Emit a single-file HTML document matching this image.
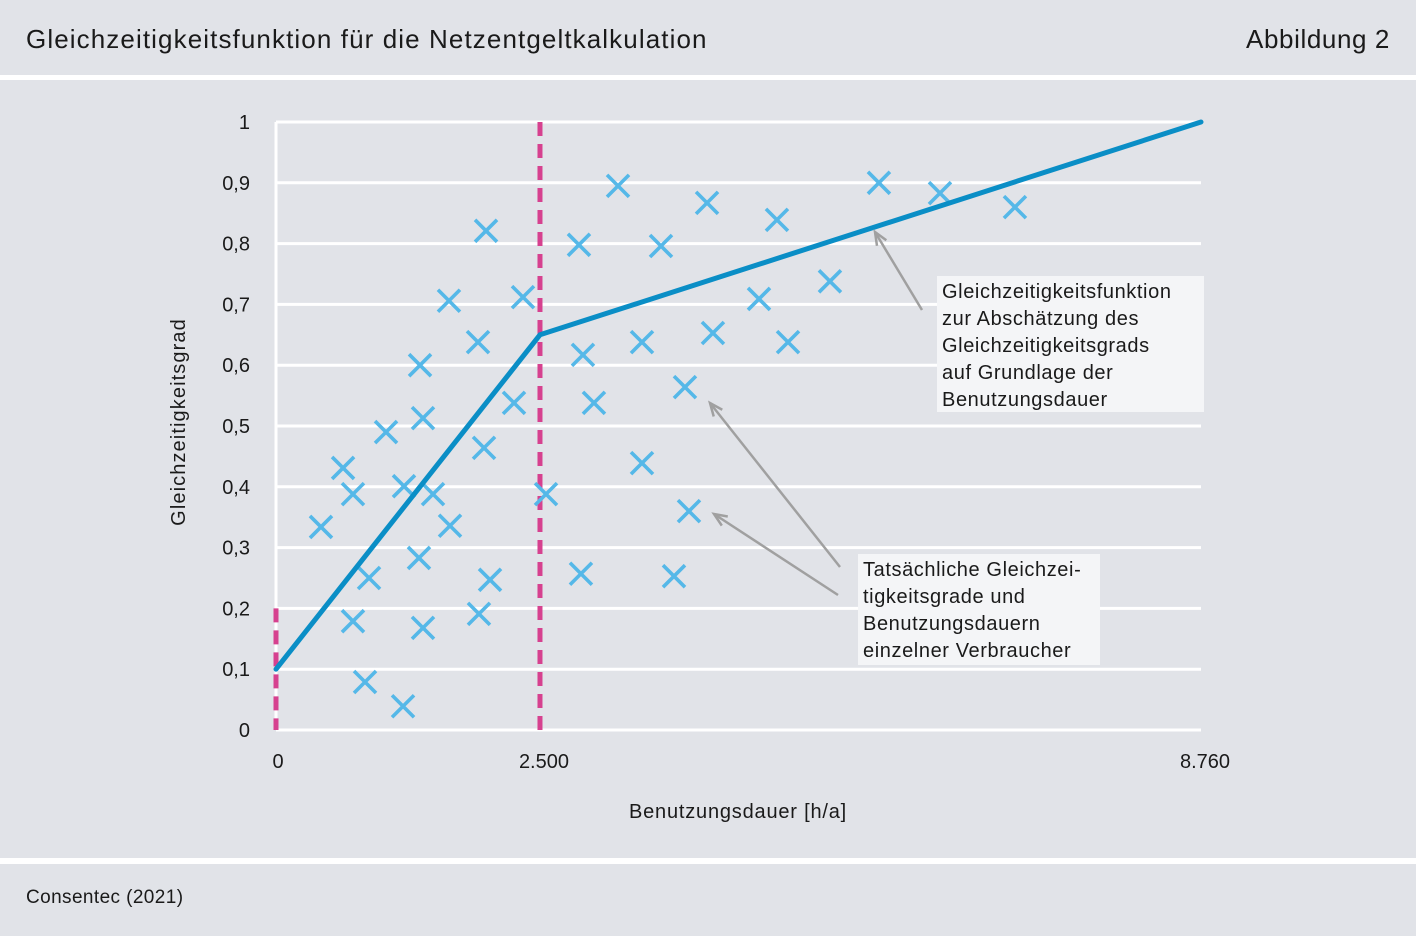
<!DOCTYPE html>
<html><head><meta charset="utf-8"><style>
body{margin:0;width:1416px;height:936px;background:#e1e3e8;font-family:"Liberation Sans",sans-serif;overflow:hidden;position:relative}
.t{position:absolute;color:#1a1a1a}
</style></head><body>
<div class="t" style="left:26px;top:24px;font-size:26px;letter-spacing:1.1px">Gleichzeitigkeitsfunktion für die Netzentgeltkalkulation</div>
<div class="t" style="right:26px;top:24px;font-size:26px;letter-spacing:0.6px">Abbildung 2</div>
<div style="position:absolute;left:0;top:75px;width:1416px;height:5px;background:#fff"></div>
<div style="position:absolute;left:0;top:858px;width:1416px;height:6px;background:#fff"></div>
<div class="t" style="left:26px;top:887px;font-size:19px;letter-spacing:0.4px">Consentec (2021)</div>
<svg id="c" width="1416" height="936" style="position:absolute;left:0;top:0" font-family="Liberation Sans, sans-serif"></svg>
<script>
const yTicks=[0,0.1,0.2,0.3,0.4,0.5,0.6,0.7,0.8,0.9,1];
const yTickLabels=["0","0,1","0,2","0,3","0,4","0,5","0,6","0,7","0,8","0,9","1"];
const xTicks=[0,2500,8760];
const xTickLabels=["0","2.500","8.760"];
const funcX=[0,2500,8760];
const funcY=[0.1,0.65,1.0];
const ptsX=[426,635,729,1042,1212,1364,1392,1487,1638,1648,1354,881,729,843,1203,1392,1913,1970,1989,2027,1922,2254,2339,2557,2869,2907,3011,2888,3239,3466,3466,3646,3873,3911,3769,4082,4138,4574,4744,4849,5246,5710,6288,6998];
const ptsY=[0.334,0.431,0.388,0.490,0.401,0.600,0.513,0.388,0.706,0.336,0.283,0.25,0.179,0.079,0.039,0.168,0.638,0.464,0.821,0.247,0.191,0.538,0.712,0.388,0.798,0.617,0.538,0.257,0.895,0.638,0.439,0.796,0.564,0.360,0.253,0.867,0.653,0.709,0.839,0.638,0.738,0.900,0.883,0.860];
const X=v=>276+v*925/8760, Y=v=>730-v*608;
const svg=document.getElementById('c'),NS="http://www.w3.org/2000/svg";
function mk(t,a,p){const e=document.createElementNS(NS,t);for(const k in a)e.setAttribute(k,a[k]);(p||svg).appendChild(e);return e;}
yTicks.forEach((v,i)=>{
 const g=mk('line',{x1:276,x2:1201,y1:Y(v),y2:Y(v),stroke:'#fff','stroke-width':3});
 
 
 const t=mk('text',{x:250,y:Y(v)+7,'text-anchor':'end','font-size':20,fill:'#1a1a1a'});t.textContent=yTickLabels[i];
 
 
});
const ax=mk('line',{x1:276,x2:276,y1:Y(1),y2:Y(0),stroke:'#fff','stroke-width':3});


xTicks.forEach((v,i)=>{
 const t=mk('text',{x:X(v)+(i==0?2:4),y:768,'text-anchor':'middle','font-size':20,fill:'#1a1a1a'});t.textContent=xTickLabels[i];
 
 
});
let t=mk('text',{x:738,y:818,'text-anchor':'middle','font-size':20,fill:'#1a1a1a','letter-spacing':0.8});t.textContent='Benutzungsdauer [h/a]';


t=mk('text',{x:185,y:422,'text-anchor':'middle','font-size':20,fill:'#1a1a1a','letter-spacing':1.1,transform:'rotate(-90 185 422)'});t.textContent='Gleichzeitigkeitsgrad';


let d=mk('line',{x1:X(0),x2:X(0),y1:Y(0.2),y2:Y(0),stroke:'#d6418f','stroke-width':5,'stroke-dasharray':'14 8'});


d=mk('line',{x1:X(2500),x2:X(2500),y1:Y(1),y2:Y(0),stroke:'#d6418f','stroke-width':5,'stroke-dasharray':'14 8'});


ptsX.forEach((x,i)=>{
 const cx=X(x),cy=Y(ptsY[i]),s=11;
 const p=mk('path',{d:`M${cx-s} ${cy-s}L${cx+s} ${cy+s}M${cx+s} ${cy-s}L${cx-s} ${cy+s}`,stroke:'#55b8e8','stroke-width':3.6,fill:'none'});
 
 
});
const fl=mk('polyline',{points:funcX.map((x,i)=>X(x)+','+Y(funcY[i])).join(' '),fill:'none',stroke:'#0a8ec6','stroke-width':5,'stroke-linecap':'round','stroke-linejoin':'miter'});


function arrow(x1,y1,x2,y2){
 const g=mk('g',{stroke:'#a0a0a0','stroke-width':2.5,fill:'none'});
 
 
 mk('line',{x1,y1,x2,y2},g);
 const a=Math.atan2(y1-y2,x1-x2),L=14;
 mk('path',{d:`M${x2+L*Math.cos(a-0.4)} ${y2+L*Math.sin(a-0.4)}L${x2} ${y2}L${x2+L*Math.cos(a+0.4)} ${y2+L*Math.sin(a+0.4)}`},g);
}
arrow(922,310,875,232);arrow(840,567,710,403);arrow(838,595,714,514);
function box(x,y,w,h,lines,name){
 const r=mk('rect',{x,y,width:w,height:h,fill:'#f4f5f7'});
 
 
 lines.forEach((l,i)=>{const tt=mk('text',{x:x+5,y:y+22+i*27,'font-size':20,fill:'#1a1a1a','letter-spacing':0.6});tt.textContent=l;
 
 });
}
box(937,276,267,136,['Gleichzeitigkeitsfunktion','zur Abschätzung des','Gleichzeitigkeitsgrads','auf Grundlage der','Benutzungsdauer'],'function-annotation');
box(858,554,242,111,['Tatsächliche Gleichzei-','tigkeitsgrade und','Benutzungsdauern','einzelner Verbraucher'],'points-annotation');
</script>
</body></html>
